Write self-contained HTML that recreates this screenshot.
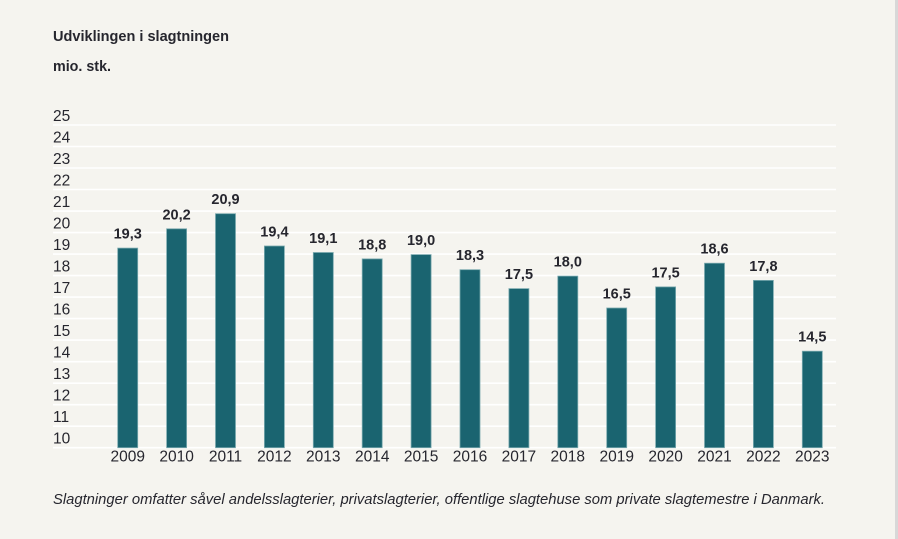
<!DOCTYPE html>
<html>
<head>
<meta charset="utf-8">
<style>
html,body{margin:0;padding:0;background:#f5f4ef;}
svg{display:block;}
text{font-family:"Liberation Sans",sans-serif;fill:#26262e;}
</style>
</head>
<body>
<svg width="898" height="539" viewBox="0 0 898 539" xmlns="http://www.w3.org/2000/svg">
<rect x="0" y="0" width="898" height="539" fill="#f5f4ef"/>
<rect x="895" y="0" width="3" height="539" fill="#d8d8d8"/>

<text x="53" y="41" font-size="14.5" font-weight="bold" textLength="176" lengthAdjust="spacingAndGlyphs">Udviklingen i slagtningen</text>
<text x="53" y="71" font-size="14.5" font-weight="bold" textLength="58" lengthAdjust="spacingAndGlyphs">mio. stk.</text>

<g stroke="#ffffff" stroke-width="1.6">
<line x1="53" x2="836" y1="125.0" y2="125.0"/>
<line x1="53" x2="836" y1="146.5" y2="146.5"/>
<line x1="53" x2="836" y1="168.0" y2="168.0"/>
<line x1="53" x2="836" y1="189.5" y2="189.5"/>
<line x1="53" x2="836" y1="211.1" y2="211.1"/>
<line x1="53" x2="836" y1="232.6" y2="232.6"/>
<line x1="53" x2="836" y1="254.1" y2="254.1"/>
<line x1="53" x2="836" y1="275.6" y2="275.6"/>
<line x1="53" x2="836" y1="297.1" y2="297.1"/>
<line x1="53" x2="836" y1="318.6" y2="318.6"/>
<line x1="53" x2="836" y1="340.1" y2="340.1"/>
<line x1="53" x2="836" y1="361.7" y2="361.7"/>
<line x1="53" x2="836" y1="383.2" y2="383.2"/>
<line x1="53" x2="836" y1="404.7" y2="404.7"/>
<line x1="53" x2="836" y1="426.2" y2="426.2"/>
<line x1="53" x2="836" y1="447.7" y2="447.7"/>
</g>

<g font-size="15.5">
<text x="53" y="121.0">25</text>
<text x="53" y="142.5">24</text>
<text x="53" y="164.0">23</text>
<text x="53" y="185.5">22</text>
<text x="53" y="207.1">21</text>
<text x="53" y="228.6">20</text>
<text x="53" y="250.1">19</text>
<text x="53" y="271.6">18</text>
<text x="53" y="293.1">17</text>
<text x="53" y="314.6">16</text>
<text x="53" y="336.1">15</text>
<text x="53" y="357.7">14</text>
<text x="53" y="379.2">13</text>
<text x="53" y="400.7">12</text>
<text x="53" y="422.2">11</text>
<text x="53" y="443.7">10</text>
</g>

<g fill="#1a6470" stroke="#7aa9ae" stroke-width="0.8">
<rect x="117.7" y="248.1" width="20" height="199.6"/>
<rect x="166.6" y="228.8" width="20" height="218.9"/>
<rect x="215.5" y="213.7" width="20" height="234.0"/>
<rect x="264.4" y="246.0" width="20" height="201.7"/>
<rect x="313.3" y="252.5" width="20" height="195.2"/>
<rect x="362.2" y="258.9" width="20" height="188.8"/>
<rect x="411.1" y="254.6" width="20" height="193.1"/>
<rect x="460.0" y="269.7" width="20" height="178.0"/>
<rect x="508.9" y="288.6" width="20" height="159.1"/>
<rect x="557.8" y="276.1" width="20" height="171.6"/>
<rect x="606.7" y="308.0" width="20" height="139.7"/>
<rect x="655.6" y="286.9" width="20" height="160.8"/>
<rect x="704.5" y="263.2" width="20" height="184.5"/>
<rect x="753.4" y="280.4" width="20" height="167.3"/>
<rect x="802.3" y="351.2" width="20" height="96.5"/>
</g>

<g font-size="14.5" font-weight="bold" text-anchor="middle">
<text x="127.7" y="238.6">19,3</text>
<text x="176.6" y="219.3">20,2</text>
<text x="225.5" y="204.2">20,9</text>
<text x="274.4" y="236.5">19,4</text>
<text x="323.3" y="243.0">19,1</text>
<text x="372.2" y="249.4">18,8</text>
<text x="421.1" y="245.1">19,0</text>
<text x="470.0" y="260.2">18,3</text>
<text x="518.9" y="279.1">17,5</text>
<text x="567.8" y="266.6">18,0</text>
<text x="616.7" y="298.5">16,5</text>
<text x="665.6" y="277.4">17,5</text>
<text x="714.5" y="253.7">18,6</text>
<text x="763.4" y="270.9">17,8</text>
<text x="812.3" y="341.7">14,5</text>
</g>

<g font-size="15.5" text-anchor="middle">
<text x="127.7" y="461.5">2009</text>
<text x="176.6" y="461.5">2010</text>
<text x="225.5" y="461.5">2011</text>
<text x="274.4" y="461.5">2012</text>
<text x="323.3" y="461.5">2013</text>
<text x="372.2" y="461.5">2014</text>
<text x="421.1" y="461.5">2015</text>
<text x="470.0" y="461.5">2016</text>
<text x="518.9" y="461.5">2017</text>
<text x="567.8" y="461.5">2018</text>
<text x="616.7" y="461.5">2019</text>
<text x="665.6" y="461.5">2020</text>
<text x="714.5" y="461.5">2021</text>
<text x="763.4" y="461.5">2022</text>
<text x="812.3" y="461.5">2023</text>
</g>

<text x="53" y="504" font-size="15" font-style="italic" textLength="772" lengthAdjust="spacingAndGlyphs">Slagtninger omfatter såvel andelsslagterier, privatslagterier, offentlige slagtehuse som private slagtemestre i Danmark.</text>
</svg>
</body>
</html>
